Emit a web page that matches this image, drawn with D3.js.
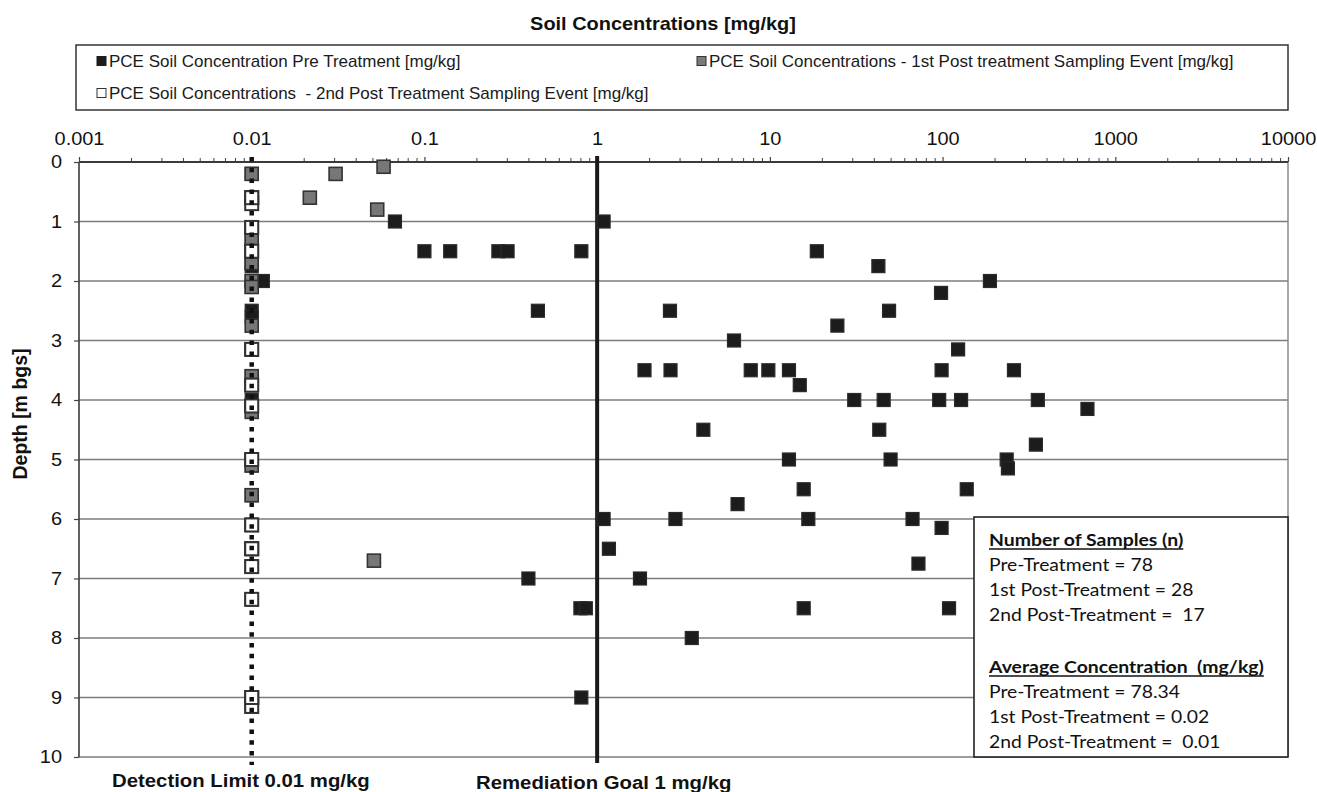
<!DOCTYPE html>
<html>
<head>
<meta charset="utf-8">
<script src="https://cdn.jsdelivr.net/npm/d3@7/dist/d3.min.js"></script>
<style>
  body { margin: 0; background: #fff; }
  svg { display: block; }
  text { white-space: pre; }
</style>
</head>
<body>
<svg id="chart" width="1317" height="792"></svg>
<script>
// ---- axis ticks -------------------------------------------------------
const concTicks = [0.001, 0.01, 0.1, 1, 10, 100, 1000, 10000];
const concTickLabels = ["0.001", "0.01", "0.1", "1", "10", "100", "1000", "10000"];
const depthTicks = [0, 1, 2, 3, 4, 5, 6, 7, 8, 9, 10];

// ---- PCE pre-treatment samples (depth m bgs, concentration mg/kg) -----
const preDepth = [
  1.0, 1.0,
  1.5, 1.5, 1.5, 1.5, 1.5, 1.5,
  1.75,
  2.0, 2.0,
  2.2,
  2.5, 2.5, 2.5,
  2.75,
  3.0,
  3.15,
  3.5, 3.5, 3.5, 3.5, 3.5, 3.5, 3.5,
  3.75,
  4.0, 4.0, 4.0, 4.0, 4.0,
  4.15,
  4.5, 4.5,
  4.75,
  5.0, 5.0, 5.0,
  5.15,
  5.5, 5.5,
  5.75,
  6.0, 6.0, 6.0, 6.0,
  6.15,
  6.5,
  6.75,
  7.0, 7.0,
  7.5, 7.5, 7.5, 7.5,
  8.0,
  9.0,
  // non-detects reported at the detection limit
  0.2, 0.6, 1.1, 1.3, 1.5, 1.7, 1.75, 2.0, 2.1, 2.5, 2.6,
  3.15, 3.6, 3.75, 4.0, 4.1, 5.0, 5.1, 5.6, 6.1, 6.5
];
const preValue = [
  0.0675, 1.09,
  0.1, 0.141, 0.268, 0.303, 0.81, 18.7,
  42.5,
  0.0116, 188,
  98,
  0.454, 2.64, 49,
  24.6,
  6.2,
  123,
  1.88, 2.66, 7.75, 9.8, 12.9, 98.7, 259,
  14.9,
  30.8, 45.6, 95.6, 128, 356,
  690,
  4.12, 43,
  347,
  12.9, 50, 235,
  239,
  15.7, 138,
  6.5,
  1.09, 2.84, 16.7, 67,
  98.7,
  1.17,
  72.5,
  0.40, 1.77,
  0.80, 0.86, 15.7, 109,
  3.53,
  0.81,
  0.01, 0.01, 0.01, 0.01, 0.01, 0.01, 0.01, 0.01, 0.01, 0.01, 0.01,
  0.01, 0.01, 0.01, 0.01, 0.01, 0.01, 0.01, 0.01, 0.01, 0.01
];

// ---- 1st post-treatment sampling event --------------------------------
const post1Depth = [
  0.08, 0.2, 0.6, 0.8, 6.7,
  0.2, 1.3, 1.7, 2.0, 2.1, 2.75, 3.6, 4.2, 5.1, 5.6,
  0.6, 1.1, 1.5, 3.15, 3.75, 4.1, 5.0, 6.1, 6.5, 6.8, 7.35, 9.0, 9.15
];
const post1Value = [
  0.058, 0.0306, 0.0217, 0.0533, 0.051,
  0.01, 0.01, 0.01, 0.01, 0.01, 0.01, 0.01, 0.01, 0.01, 0.01,
  0.01, 0.01, 0.01, 0.01, 0.01, 0.01, 0.01, 0.01, 0.01, 0.01, 0.01, 0.01, 0.01
];

// ---- 2nd post-treatment sampling event --------------------------------
const post2Depth = [
  0.6, 0.7, 1.1, 1.5, 3.15, 3.75, 4.1, 5.0, 6.1, 6.5, 6.8, 7.35, 9.0, 9.15,
  0.6, 6.5, 9.0
];
const post2Value = [
  0.01, 0.01, 0.01, 0.01, 0.01, 0.01, 0.01, 0.01, 0.01, 0.01, 0.01, 0.01, 0.01, 0.01,
  0.01, 0.01, 0.01
];

// ---- reference lines --------------------------------------------------
const detectionLimit = 0.01;
const remediationGoal = 1;

// ---- summary statistics ----------------------------------------------
const sampleLabels = ["Pre-Treatment = 78", "1st Post-Treatment = 28", "2nd Post-Treatment =  17"];
const averageLabels = ["Pre-Treatment = 78.34", "1st Post-Treatment = 0.02", "2nd Post-Treatment =  0.01"];

const legendLabels = [
  "PCE Soil Concentration Pre Treatment [mg/kg]",
  "PCE Soil Concentrations - 1st Post treatment Sampling Event [mg/kg]",
  "PCE Soil Concentrations  - 2nd Post Treatment Sampling Event [mg/kg]"
];

// ---- layout -----------------------------------------------------------
const plot = { left: 79, right: 1288, top: 162, bottom: 757 };
const svg = d3.select("#chart");
const sansFont = "'Liberation Sans', Arial, sans-serif";
const wide = 1.14;   // slight horizontal stretch used by the chart's lettering

const x = d3.scaleLog().domain([0.001, 10000]).range([plot.left, plot.right]);
const y = d3.scaleLinear().domain([0, 10]).range([plot.top, plot.bottom]);

// title
svg.append("text")
  .attr("transform", `translate(663,30) scale(${wide},1)`)
  .attr("text-anchor", "middle")
  .style("font-family", sansFont).style("font-weight", "bold").style("font-size", "17.5px")
  .attr("fill", "#111")
  .text("Soil Concentrations [mg/kg]");

// legend box
svg.append("rect")
  .attr("x", 76).attr("y", 45).attr("width", 1212).attr("height", 65)
  .attr("fill", "#fff").attr("stroke", "#333").attr("stroke-width", 1.5);

const legendItems = [
  { label: legendLabels[0], fill: "#1c1c1c", stroke: "#1c1c1c", x: 97, y: 61 },
  { label: legendLabels[1], fill: "#7a7a7a", stroke: "#333", x: 697, y: 61 },
  { label: legendLabels[2], fill: "#fff", stroke: "#333", x: 97, y: 93 }
];
const lg = svg.append("g");
legendItems.forEach(d => {
  lg.append("rect")
    .attr("x", d.x).attr("y", d.y - 4.5).attr("width", 9).attr("height", 9)
    .attr("fill", d.fill).attr("stroke", d.stroke).attr("stroke-width", 1);
  lg.append("text")
    .attr("x", d.x + 12).attr("y", d.y + 6)
    .style("font-family", sansFont).style("font-size", "17px")
    .attr("fill", "#1a1a1a")
    .text(d.label);
});

// horizontal gridlines
svg.append("g").selectAll("line")
  .data(depthTicks.filter(d => d > 0))
  .join("line")
  .attr("x1", plot.left).attr("x2", plot.right)
  .attr("y1", d => y(d)).attr("y2", d => y(d))
  .attr("stroke", "#7c7c7c").attr("stroke-width", 1.6);

// right border of plot area
svg.append("line")
  .attr("x1", plot.right).attr("x2", plot.right)
  .attr("y1", plot.top).attr("y2", plot.bottom)
  .attr("stroke", "#8a8a8a").attr("stroke-width", 1.5);

// top (log) axis: minor ticks
const minorTicks = x.ticks().filter(t => !concTicks.some(c => Math.abs(c - t) / c < 1e-9));
const minorAxis = d3.axisTop(x).tickValues(minorTicks).tickSize(4).tickFormat("");
const gMinor = svg.append("g").attr("transform", `translate(0,${plot.top})`).call(minorAxis);
gMinor.select(".domain").remove();
gMinor.selectAll(".tick line").attr("stroke", "#444").attr("stroke-width", 1);

// top (log) axis: decades with labels
const majorAxis = d3.axisTop(x).tickValues(concTicks).tickSize(5).tickPadding(12)
  .tickFormat((d, i) => concTickLabels[i]);
const gMajor = svg.append("g").attr("transform", `translate(0,${plot.top})`).call(majorAxis);
gMajor.select(".domain").attr("stroke", "#3a3a3a").attr("stroke-width", 2)
  .attr("d", `M${plot.left},0H${plot.right}`);
gMajor.selectAll(".tick line").attr("stroke", "#444").attr("stroke-width", 1.2);
gMajor.selectAll(".tick text")
  .attr("y", 0).attr("dy", 0)
  .attr("transform", `translate(0,-17) scale(${wide},1)`)
  .style("font-family", sansFont).style("font-size", "17.5px").attr("fill", "#111");

// left (depth) axis
const depthAxis = d3.axisLeft(y).tickValues(depthTicks).tickSize(5).tickPadding(12)
  .tickFormat(d3.format("d"));
const gDepth = svg.append("g").attr("transform", `translate(${plot.left},0)`).call(depthAxis);
gDepth.select(".domain").attr("stroke", "#3a3a3a").attr("stroke-width", 1.6)
  .attr("d", `M0,${plot.top}V${plot.bottom}`);
gDepth.selectAll(".tick line").attr("stroke", "#444").attr("stroke-width", 1.2);
gDepth.selectAll(".tick text")
  .attr("x", 0)
  .attr("transform", `translate(-17,0) scale(${wide},1)`)
  .style("font-family", sansFont).style("font-size", "17.5px").attr("fill", "#111");

// depth axis title
svg.append("text")
  .attr("transform", "translate(27,414) rotate(-90)")
  .attr("text-anchor", "middle")
  .style("font-family", sansFont).style("font-weight", "bold").style("font-size", "19.5px")
  .attr("fill", "#111")
  .text("Depth [m bgs]");

// remediation goal line (solid)
svg.append("line")
  .attr("x1", x(remediationGoal)).attr("x2", x(remediationGoal))
  .attr("y1", plot.top - 6).attr("y2", plot.bottom + 6)
  .attr("stroke", "#1a1a1a").attr("stroke-width", 4);

// sample markers
const markerSize = 13;
function drawSeries(depths, values, fill, stroke, sw) {
  const pts = depths.map((d, i) => ({ depth: d, value: values[i] }));
  svg.append("g").selectAll("rect")
    .data(pts)
    .join("rect")
    .attr("x", d => x(d.value) - markerSize / 2)
    .attr("y", d => y(d.depth) - markerSize / 2)
    .attr("width", markerSize).attr("height", markerSize)
    .attr("fill", fill).attr("stroke", stroke).attr("stroke-width", sw);
}
drawSeries(preDepth, preValue, "#1c1c1c", "#2b2b2b", 1.2);
drawSeries(post1Depth, post1Value, "#777", "#333", 1.6);
drawSeries(post2Depth, post2Value, "#fff", "#333", 2);

// detection limit line (dotted), drawn over the markers
svg.append("line")
  .attr("x1", x(detectionLimit)).attr("x2", x(detectionLimit))
  .attr("y1", plot.top - 5).attr("y2", plot.bottom + 8)
  .attr("stroke", "#111").attr("stroke-width", 4.5)
  .attr("stroke-dasharray", "4.5 6.3");

// labels under the reference lines
function bottomLabel(txt, lx, ly) {
  svg.append("text")
    .attr("transform", `translate(${lx},${ly}) scale(1.1,1)`)
    .style("font-family", sansFont).style("font-weight", "bold").style("font-size", "18.5px")
    .attr("fill", "#111")
    .text(txt);
}
bottomLabel("Detection Limit 0.01 mg/kg", 112, 787);
bottomLabel("Remediation Goal 1 mg/kg", 476, 789);

// summary box
const box = { x: 974, y: 517, w: 1288 - 974, h: 757 - 517 };
svg.append("rect")
  .attr("x", box.x).attr("y", box.y).attr("width", box.w).attr("height", box.h)
  .attr("fill", "#fff").attr("stroke", "#222").attr("stroke-width", 1.6);

const statFont = "Lato, 'Open Sans', sans-serif";
const statSize = 17.5;
const statLeft = 989;

// horizontal stretch for the box lettering, fitted to the box proportions
function measure(txt, bold) {
  const t = svg.append("text")
    .style("font-family", statFont).style("font-size", statSize + "px")
    .style("font-weight", bold ? "bold" : "normal")
    .text(txt);
  const w = t.node().getComputedTextLength();
  t.remove();
  return w;
}
const sxRegular = Math.min(1.35, Math.max(0.9, 191 / measure(averageLabels[0], false)));
const sxBold = Math.min(1.35, Math.max(0.9, 275 / measure("Average Concentration  (mg/kg)", true)));

function statLine(txt, yy, bold) {
  const sx = bold ? sxBold : sxRegular;
  const t = svg.append("text")
    .attr("transform", `translate(${statLeft},${yy}) scale(${sx},1)`)
    .style("font-family", statFont).style("font-size", statSize + "px")
    .style("font-weight", bold ? "bold" : "normal")
    .attr("fill", "#111")
    .text(txt);
  if (bold) {
    const w = t.node().getComputedTextLength() * sx;
    svg.append("line")
      .attr("x1", statLeft).attr("x2", statLeft + w)
      .attr("y1", yy + 3).attr("y2", yy + 3)
      .attr("stroke", "#111").attr("stroke-width", 1.3);
  }
}
statLine("Number of Samples (n)", 546, true);
sampleLabels.forEach((s, i) => statLine(s, 571 + i * 25, false));
statLine("Average Concentration  (mg/kg)", 673, true);
averageLabels.forEach((s, i) => statLine(s, 698 + i * 25, false));
</script>
</body>
</html>
